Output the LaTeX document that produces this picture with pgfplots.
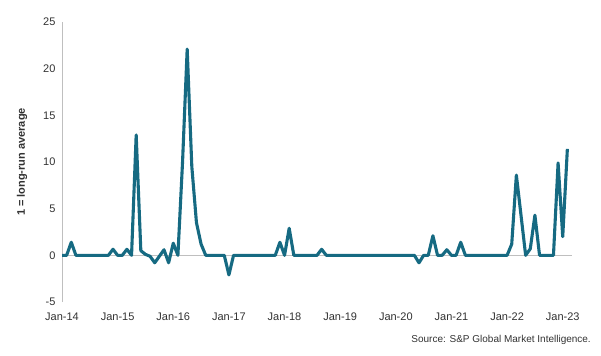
\documentclass[border=0pt]{standalone}
\usepackage{pgfplots}
\pgfplotsset{compat=1.18}
\usepackage{pgfplotstable}
\usepackage{fontspec}
\setmainfont{Liberation Sans}
\usetikzlibrary{calc}
\definecolor{teal1}{RGB}{22,106,130}
\definecolor{axgray}{RGB}{191,191,191}
\definecolor{txt}{RGB}{50,50,50}
\pgfplotstableread{
m v
0 0
1 0
2 1.4
3 0
4 0
5 0
6 0
7 0
8 0
9 0
10 0
11 0.65
12 0
13 0
14 0.65
15 0
16 12.9
17 0.5
18 0.1
19 -0.1
20 -0.8
21 -0.1
22 0.6
23 -0.8
24 1.3
25 0
26 10
27 22.1
28 9.5
29 3.5
30 1.2
31 0
32 0
33 0
34 0
35 0
36 -2.1
37 0
38 0
39 0
40 0
41 0
42 0
43 0
44 0
45 0
46 0
47 1.4
48 0
49 2.9
50 0
51 0
52 0
53 0
54 0
55 0
56 0.65
57 0
58 0
59 0
60 0
61 0
62 0
63 0
64 0
65 0
66 0
67 0
68 0
69 0
70 0
71 0
72 0
73 0
74 0
75 0
76 0
77 -0.8
78 0
79 0
80 2.1
81 0
82 0
83 0.6
84 0
85 0
86 1.4
87 0
88 0
89 0
90 0
91 0
92 0
93 0
94 0
95 0
96 0
97 1.2
98 8.6
99 4.3
100 0
101 0.7
102 4.3
103 0
104 0
105 0
106 0
107 9.9
108 2.0
109 11.4
}\datatable
\begin{document}
\begin{tikzpicture}
\begin{axis}[
  name=ax,
  scale only axis,
  width=510bp, height=280bp,
  xmin=0, xmax=110,
  ymin=-5, ymax=25,
  ytick={-5,0,5,10,15,20,25},
  xtick={0,12,24,36,48,60,72,84,96,108},
  xticklabels={Jan-14,Jan-15,Jan-16,Jan-17,Jan-18,Jan-19,Jan-20,Jan-21,Jan-22,Jan-23},
  axis x line*=bottom,
  axis y line*=left,
  x axis line style={draw=none, -},
  y axis line style={draw=axgray, line width=1bp, -},
  major tick length=0pt,
  tick style={draw=none},
  clip=false,
  /pgf/number format/assume math mode=true,
  ticklabel style={font=\fontsize{11bp}{13bp}\selectfont, text=txt},
  yticklabel style={xshift=-3bp},
  xticklabel style={yshift=-7bp},
]
\draw[axgray, line width=1bp] (axis cs:0,0) -- (axis cs:110,0);
\addplot[teal1, line width=3.1bp, line join=round, no marks] table[x=m, y=v] {\datatable};
\end{axis}
\node[rotate=90, anchor=center, font=\bfseries\fontsize{11bp}{13bp}\selectfont, text=txt] at ($(ax.west)+(-40bp,0)$) {1 = long-run average};
\path ($(ax.south east)+(19bp,-38bp)$) node[anchor=east, font=\fontsize{10bp}{12bp}\selectfont, text=txt, inner sep=0pt] {Source: S\&P Global Market Intelligence.};
\path ($(ax.south west)+(-62bp,-54bp)$) rectangle ($(ax.north east)+(29bp,22bp)$);
\end{tikzpicture}
\end{document}
